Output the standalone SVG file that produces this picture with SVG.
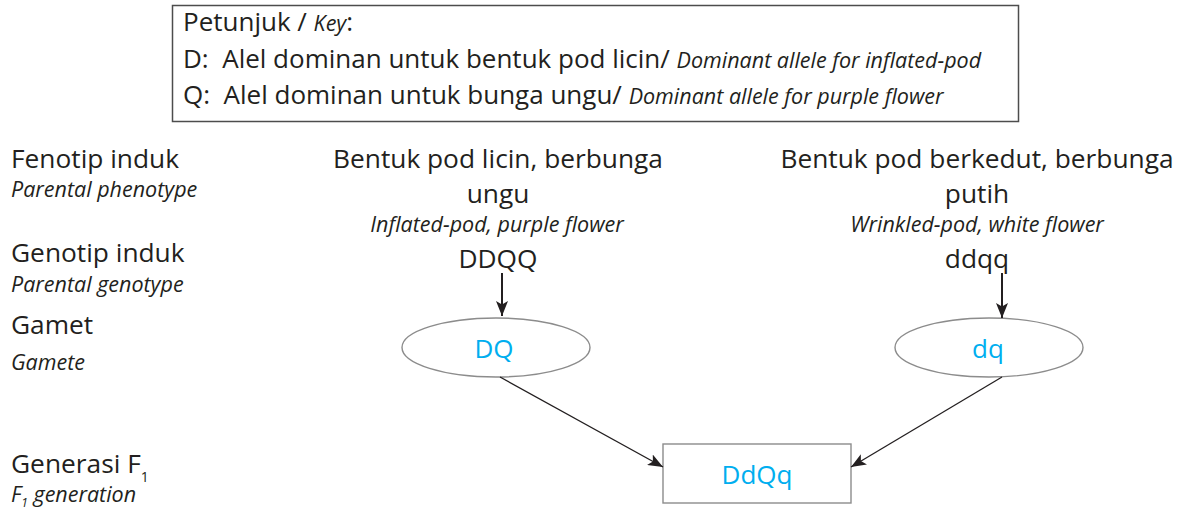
<svg xmlns="http://www.w3.org/2000/svg" width="1182" height="510" viewBox="0 0 1182 510">
<defs>
<style>
.t{font-family:"Open Sans","Noto Sans","Liberation Sans",sans-serif;fill:#231f20}
.big{font-size:26.3px}
.key{font-size:26px}
.it{font-style:italic}
.sm{font-size:21.5px}
.ki{font-style:italic;font-size:21.5px}
.blue{fill:#00aeef;font-size:26px}
.mid{text-anchor:middle}
.shape{fill:#fff;stroke:#8c8c8c;stroke-width:1.4}
.arr{stroke:#231f20;fill:none}
</style>
<marker id="ah" markerUnits="userSpaceOnUse" markerWidth="16" markerHeight="12" refX="15" refY="6" orient="auto" viewBox="0 0 16 12">
<path d="M0,0 L15,6 L0,12 L3.5,6 Z" fill="#231f20"/>
</marker>
</defs>
<rect width="1182" height="510" fill="#fff"/>

<g id="key">
<rect x="172.5" y="5.5" width="846" height="116" fill="none" stroke="#4d4d4d" stroke-width="1.5"/>
<text class="t key" x="183" y="31">Petunjuk / <tspan class="ki">Key</tspan>:</text>
<text class="t key" x="183" y="68" xml:space="preserve">D:  Alel dominan untuk bentuk pod licin/ <tspan class="ki">Dominant allele for inflated-pod</tspan></text>
<text class="t key" x="183" y="104" xml:space="preserve">Q:  Alel dominan untuk bunga ungu/ <tspan class="ki">Dominant allele for purple flower</tspan></text>
</g>

<g id="labels">
<text class="t big" x="11" y="168">Fenotip induk</text>
<text class="t it sm" x="11" y="197">Parental phenotype</text>
<text class="t big" x="11" y="262">Genotip induk</text>
<text class="t it sm" x="11" y="292">Parental genotype</text>
<text class="t big" x="11" y="334">Gamet</text>
<text class="t it sm" x="11" y="370">Gamete</text>
<text class="t big" x="11" y="473">Generasi F<tspan font-size="14" dy="9">1</tspan></text>
<text class="t it sm" x="11" y="502">F<tspan font-size="12" dy="5">1</tspan><tspan dy="-5"> generation</tspan></text>
</g>

<g id="parent1">
<text class="t big mid" x="498" y="168">Bentuk pod licin, berbunga</text>
<text class="t big mid" x="498" y="203">ungu</text>
<text class="t it sm mid" x="497" y="232">Inflated-pod, purple flower</text>
<text class="t big mid" x="498" y="268">DDQQ</text>
</g>

<g id="parent2">
<text class="t big mid" x="977" y="168">Bentuk pod berkedut, berbunga</text>
<text class="t big mid" x="977" y="203">putih</text>
<text class="t it sm mid" x="977" y="232">Wrinkled-pod, white flower</text>
<text class="t big mid" x="977" y="268">ddqq</text>
</g>

<g id="gamete1">
<ellipse class="shape" cx="496" cy="347.5" rx="94" ry="29.5"/>
<text class="t blue mid" x="494" y="358">DQ</text>
</g>

<g id="gamete2">
<ellipse class="shape" cx="989" cy="347.5" rx="94" ry="29.5"/>
<text class="t blue mid" x="988" y="358">dq</text>
</g>

<g id="f1">
<rect class="shape" x="663" y="444" width="188" height="59"/>
<text class="t blue mid" x="757" y="484">DdQq</text>
</g>

<g id="connectors">
<line class="arr" x1="502" y1="273" x2="502" y2="316" stroke-width="2" marker-end="url(#ah)"/>
<line class="arr" x1="1002" y1="273" x2="1002" y2="318" stroke-width="2" marker-end="url(#ah)"/>
<line class="arr" x1="500" y1="377" x2="663" y2="467" stroke-width="1.3" marker-end="url(#ah)"/>
<line class="arr" x1="1002" y1="377" x2="851" y2="467" stroke-width="1.3" marker-end="url(#ah)"/>
</g>
</svg>
